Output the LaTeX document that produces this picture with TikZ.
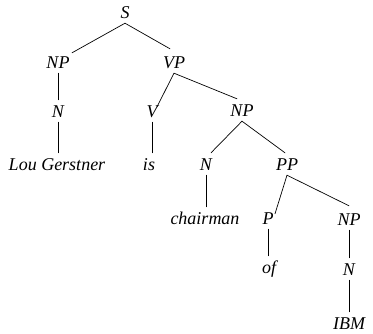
\documentclass[tikz,border=0pt]{standalone}
\usepackage{fontspec}
\setmainfont{Liberation Serif}
\begin{document}
\begin{tikzpicture}[x=1pt,y=-1pt,
  lbl/.style={font=\fontsize{18}{20}\selectfont\itshape, anchor=base,
    text height=12pt, text depth=0pt, inner xsep=0pt, inner ysep=5pt},
  edge/.style={line width=0.7pt, line cap=round}]
\useasboundingbox (0,0) rectangle (373,333);
% nodes (x = box centre, y = baseline)
\node[lbl] (S)   at (125,18)  {S};
\node[lbl] (NPa) at (58,68)   {NP};
\node[lbl] (VP)  at (174,68)  {VP};
\node[lbl] (Na)  at (58,117)  {N};
\node[lbl] (V)   at (152,117) {V};
\node[lbl] (NPb) at (242,116) {NP};
\node[lbl] (lou) at (57,170)  {Lou Gerstner};
\node[lbl] (is)  at (149,170) {is};
\node[lbl] (Nb)  at (206,170) {N};
\node[lbl] (PP)  at (287,170) {PP};
\node[lbl] (ch)  at (205,224) {chairman};
\node[lbl] (P)   at (268,224) {P};
\node[lbl] (NPc) at (349,225) {NP};
\node[lbl] (of)  at (269,273) {of};
\node[lbl] (Nc)  at (349,275) {N};
\node[lbl] (ibm) at (349,329) {IBM};
% connectors
\draw[edge] (S.south) -- ([xshift=14pt,yshift=-2pt]NPa.north);
\draw[edge] (S.south) -- ([xshift=-4pt,yshift=2pt]VP.north);
\draw[edge] (NPa.south) -- (NPa.south |- Na.north);
\draw[edge] (Na.south) -- (Na.south |- lou.north);
\draw[edge] (VP.south) -- ([xshift=5pt,yshift=-7pt]V.north);
\draw[edge] (VP.south) -- ([xshift=-5pt]NPb.north);
\draw[edge] (V.south) -- (V.south |- is.north);
\draw[edge] (NPb.south) -- ([xshift=5pt]Nb.north);
\draw[edge] (NPb.south) -- ([xshift=-2pt]PP.north);
\draw[edge] (Nb.south) -- (Nb.south |- ch.north);
\draw[edge] (PP.south) -- ([xshift=7pt,yshift=-7pt]P.north);
\draw[edge] (PP.south) -- ([yshift=2pt]NPc.north);
\draw[edge] (P.south) -- (P.south |- of.north);
\draw[edge] (NPc.south) -- (NPc.south |- Nc.north);
\draw[edge] (Nc.south) -- (Nc.south |- ibm.north);
\end{tikzpicture}
\end{document}
